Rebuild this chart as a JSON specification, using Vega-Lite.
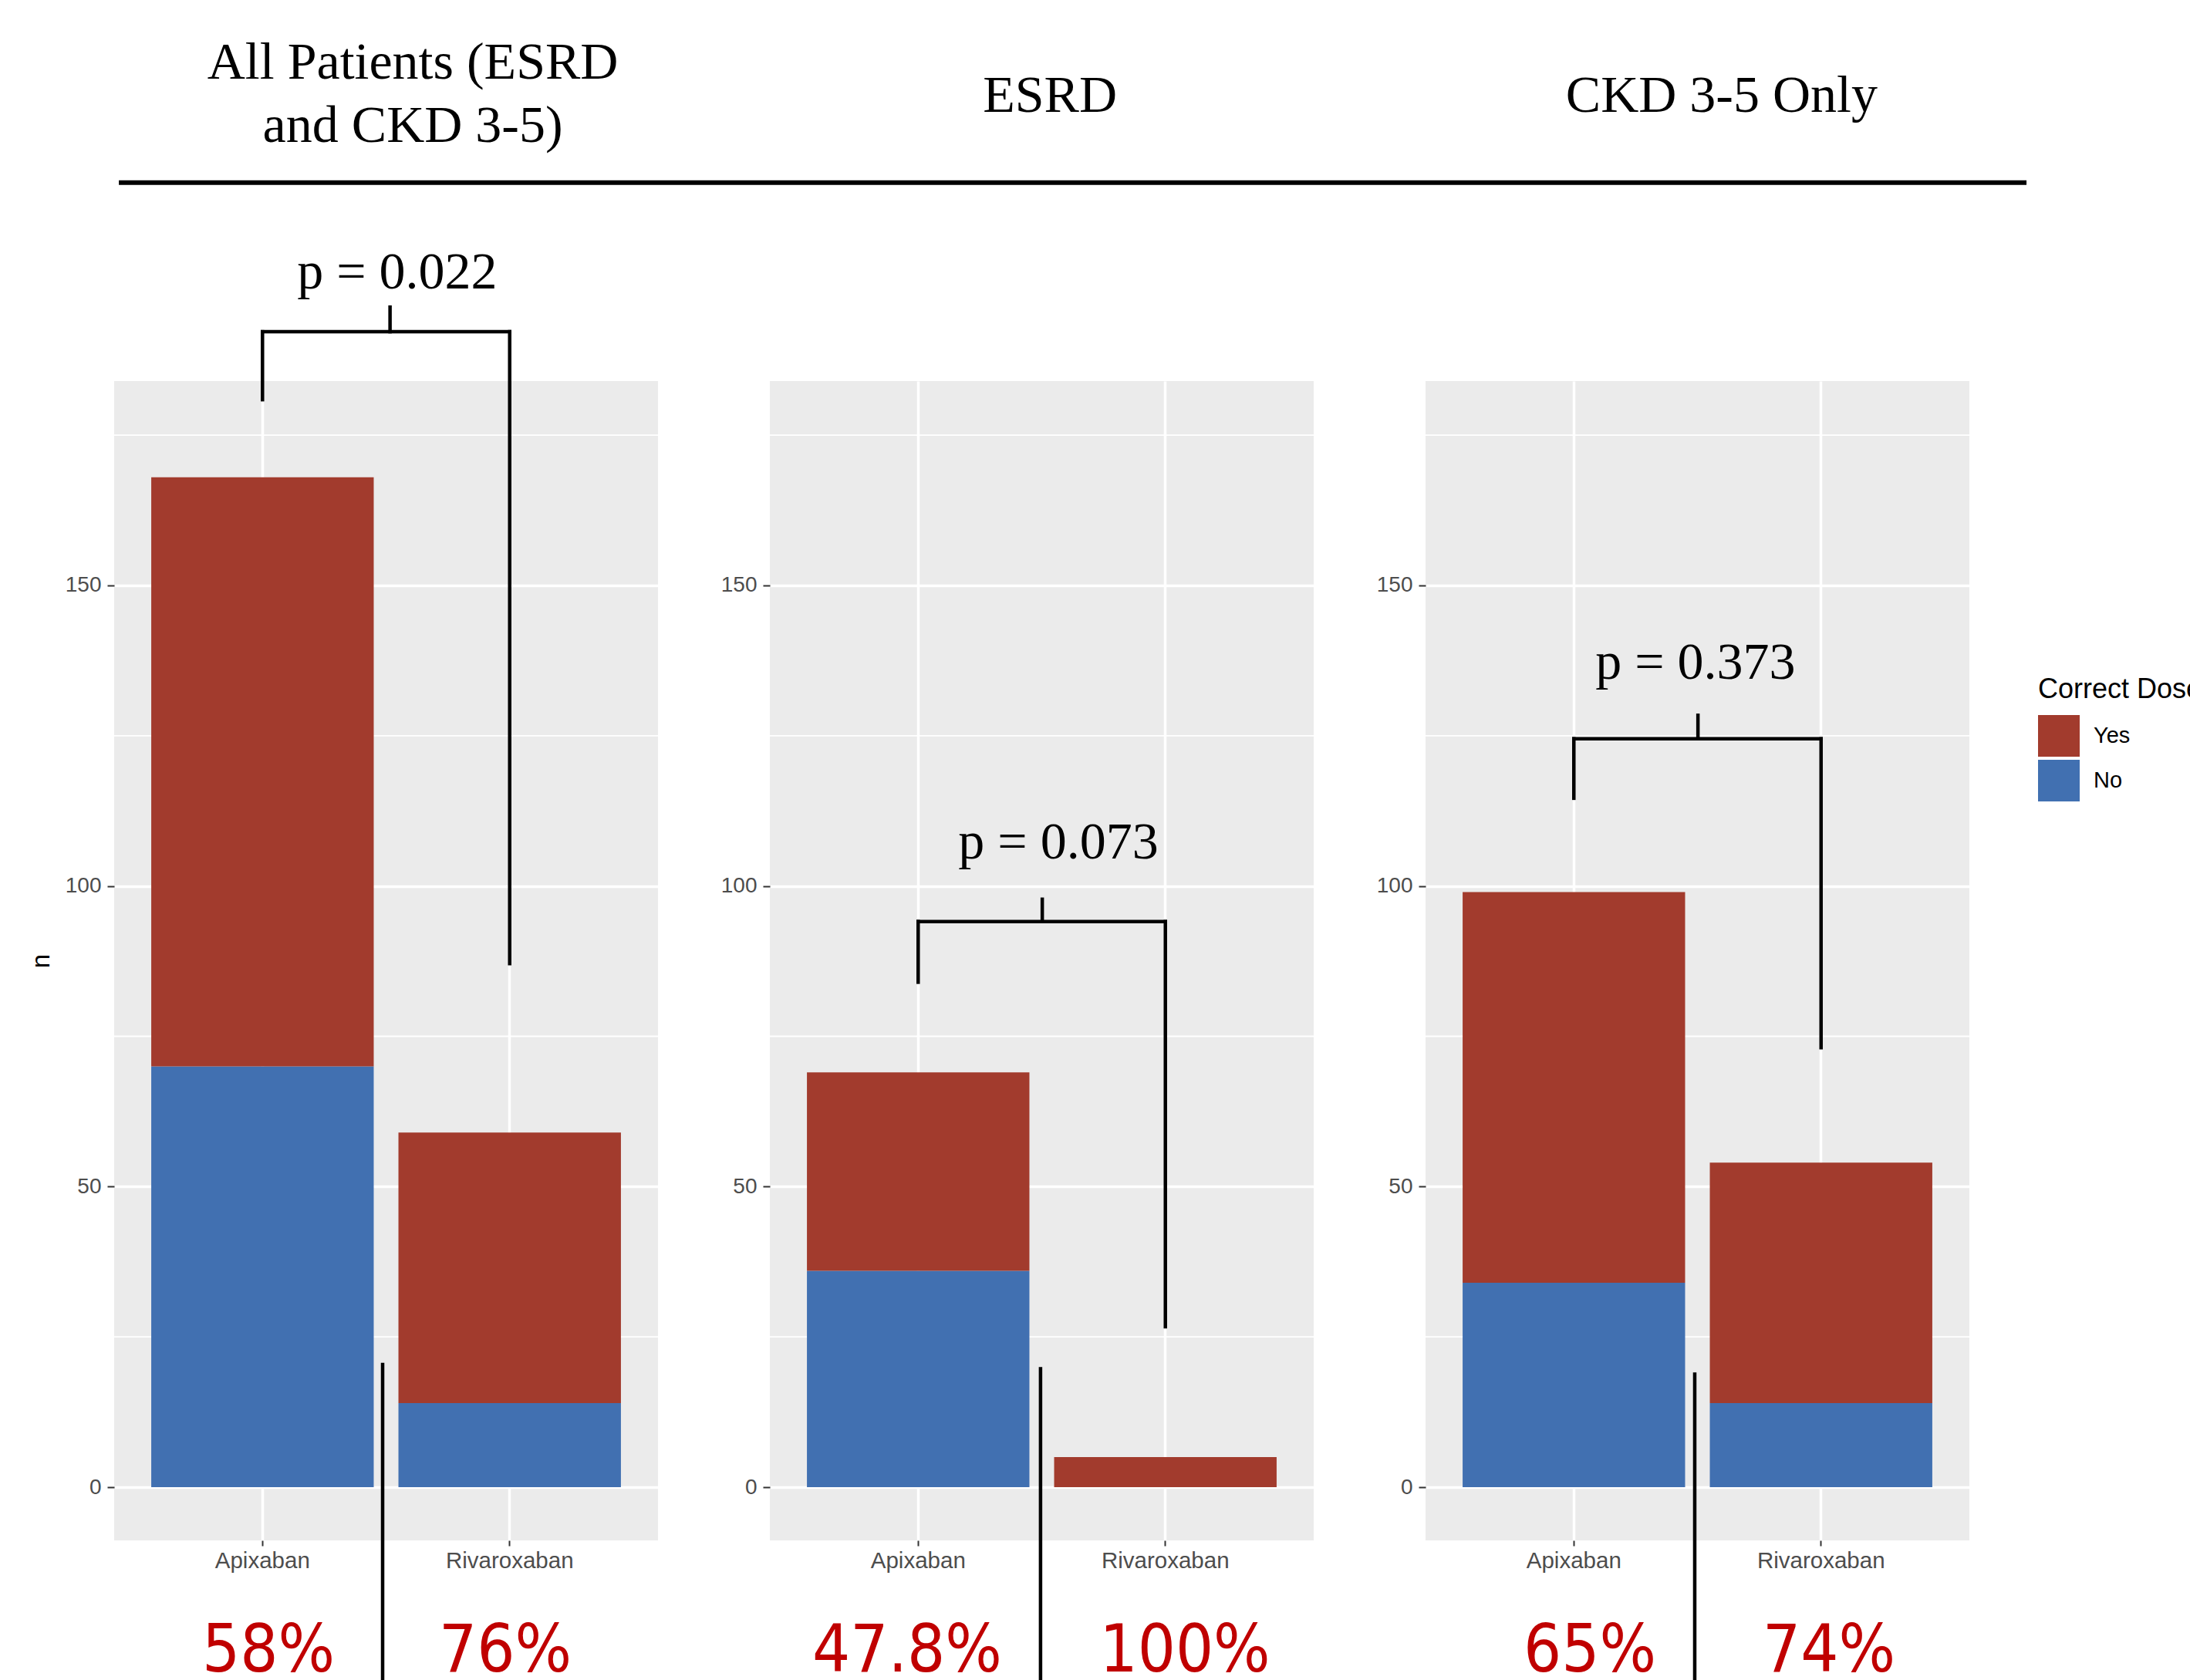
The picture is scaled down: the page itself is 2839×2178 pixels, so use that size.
{
  "$schema": "https://vega.github.io/schema/vega-lite/v6.json",
  "autosize": {"type": "none"},
  "padding": {"left": 148, "top": 494, "right": 2691, "bottom": 1684},
  "background": "white",
  "datasets": {
    "d": [
      {"panel": "All Patients", "kind": "bar", "drug": "Apixaban", "dose": "No", "n": 70},
      {"panel": "All Patients", "kind": "bar", "drug": "Apixaban", "dose": "Yes", "n": 98},
      {"panel": "All Patients", "kind": "bar", "drug": "Rivaroxaban", "dose": "No", "n": 14},
      {"panel": "All Patients", "kind": "bar", "drug": "Rivaroxaban", "dose": "Yes", "n": 45},
      {"panel": "ESRD", "kind": "bar", "drug": "Apixaban", "dose": "No", "n": 36},
      {"panel": "ESRD", "kind": "bar", "drug": "Apixaban", "dose": "Yes", "n": 33},
      {"panel": "ESRD", "kind": "bar", "drug": "Rivaroxaban", "dose": "No", "n": 0},
      {"panel": "ESRD", "kind": "bar", "drug": "Rivaroxaban", "dose": "Yes", "n": 5},
      {"panel": "CKD", "kind": "bar", "drug": "Apixaban", "dose": "No", "n": 34},
      {"panel": "CKD", "kind": "bar", "drug": "Apixaban", "dose": "Yes", "n": 65},
      {"panel": "CKD", "kind": "bar", "drug": "Rivaroxaban", "dose": "No", "n": 14},
      {"panel": "CKD", "kind": "bar", "drug": "Rivaroxaban", "dose": "Yes", "n": 40},
      {"panel": "any", "kind": "minor", "y": 25},
      {"panel": "any", "kind": "minor", "y": 75},
      {"panel": "any", "kind": "minor", "y": 125},
      {"panel": "any", "kind": "minor", "y": 175},
      {"panel": "All Patients", "kind": "line", "x": 1, "y": 192.2, "x2": 2, "y2": 192.2},
      {"panel": "All Patients", "kind": "line", "x": 1, "y": 192.2, "x2": 1, "y2": 180.9},
      {"panel": "All Patients", "kind": "line", "x": 2, "y": 192.2, "x2": 2, "y2": 87.1},
      {"panel": "All Patients", "kind": "line", "x": 1.516, "y": 192.2, "x2": 1.516, "y2": 196.3},
      {"panel": "All Patients", "kind": "line", "x": 1.486, "y": 20.4, "x2": 1.486, "y2": -40},
      {"panel": "All Patients", "kind": "hline", "x": 0.419, "y": 217, "x2": 8.136, "y2": 217},
      {"panel": "ESRD", "kind": "line", "x": 1, "y": 94.1, "x2": 2, "y2": 94.1},
      {"panel": "ESRD", "kind": "line", "x": 1, "y": 94.1, "x2": 1, "y2": 84.0},
      {"panel": "ESRD", "kind": "line", "x": 2, "y": 94.1, "x2": 2, "y2": 26.7},
      {"panel": "ESRD", "kind": "line", "x": 1.502, "y": 94.1, "x2": 1.502, "y2": 97.8},
      {"panel": "ESRD", "kind": "line", "x": 1.495, "y": 19.7, "x2": 1.495, "y2": -40},
      {"panel": "CKD", "kind": "line", "x": 1, "y": 124.5, "x2": 2, "y2": 124.5},
      {"panel": "CKD", "kind": "line", "x": 1, "y": 124.5, "x2": 1, "y2": 114.6},
      {"panel": "CKD", "kind": "line", "x": 2, "y": 124.5, "x2": 2, "y2": 73.1},
      {"panel": "CKD", "kind": "line", "x": 1.502, "y": 124.5, "x2": 1.502, "y2": 128.4},
      {"panel": "CKD", "kind": "line", "x": 1.489, "y": 18.8, "x2": 1.489, "y2": -40},
      {"panel": "All Patients", "kind": "serif", "x": 1.608, "y": 234.3, "label": "All Patients (ESRD"},
      {"panel": "All Patients", "kind": "serif", "x": 1.608, "y": 223.8, "label": "and CKD 3-5)"},
      {"panel": "ESRD", "kind": "serif", "x": 1.533, "y": 228.8, "label": "ESRD"},
      {"panel": "CKD", "kind": "serif", "x": 1.598, "y": 228.8, "label": "CKD 3-5 Only"},
      {"panel": "All Patients", "kind": "serif", "x": 1.545, "y": 199.4, "label": "p = 0.022"},
      {"panel": "ESRD", "kind": "serif", "x": 1.567, "y": 104.6, "label": "p = 0.073"},
      {"panel": "CKD", "kind": "serif", "x": 1.492, "y": 134.5, "label": "p = 0.373"},
      {"panel": "All Patients", "kind": "pct", "x": 1.024, "y": -30.6, "label": "58%"},
      {"panel": "All Patients", "kind": "pct", "x": 1.982, "y": -30.6, "label": "76%"},
      {"panel": "ESRD", "kind": "pct", "x": 0.955, "y": -30.6, "label": "47.8%"},
      {"panel": "ESRD", "kind": "pct", "x": 2.079, "y": -30.6, "label": "100%"},
      {"panel": "CKD", "kind": "pct", "x": 1.065, "y": -30.6, "label": "65%"},
      {"panel": "CKD", "kind": "pct", "x": 2.032, "y": -30.6, "label": "74%"}
    ]
  },
  "spacing": 145,
  "bounds": "flush",
  "hconcat": [
    {
      "width": 705, "height": 1503,
      "data": {"name": "d"},
      "transform": [{"filter": "datum.panel == 'All Patients' || datum.panel == 'any'"}],
      "resolve": {"scale": {"x": "independent"}, "axis": {"x": "independent"}},
      "layer": [
        {"transform": [{"filter": "datum.kind == 'minor'"}], "mark": {"type": "rule", "color": "white", "strokeWidth": 1.8},
         "encoding": {"y": {"field": "y", "type": "quantitative", "scale": {"domain": [-8.85, 184], "nice": false, "zero": false},
           "axis": {"values": [0, 50, 100, 150], "title": "n", "grid": true, "gridColor": "white", "gridWidth": 3.5, "domain": false, "tickColor": "#333333", "tickSize": 9, "tickWidth": 2, "labelFont": "Liberation Sans", "labelFontSize": 28, "labelColor": "#4D4D4D", "labelPadding": 8, "titleFont": "Liberation Sans", "titleFontSize": 33, "titleFontWeight": "normal", "titleColor": "black", "titlePadding": 14}}}},
        {"transform": [{"filter": "datum.kind == 'bar'"}], "mark": {"type": "bar"},
         "encoding": {
           "x": {"field": "drug", "type": "nominal", "scale": {"paddingInner": 0.1, "paddingOuter": 0.15},
                 "axis": {"title": null, "labelAngle": 0, "grid": true, "gridColor": "white", "gridWidth": 3.5, "domain": false, "tickColor": "#333333", "tickSize": 7, "tickWidth": 2, "labelFont": "Liberation Sans", "labelFontSize": 29.5, "labelColor": "#4D4D4D", "labelPadding": 5, "bandPosition": 0.5}},
           "y": {"field": "n", "type": "quantitative", "stack": "zero", "scale": {"domain": [-8.85, 184], "nice": false, "zero": false}},
           "color": {"field": "dose", "type": "nominal", "scale": {"domain": ["Yes", "No"], "range": ["#A23B2D", "#4170B1"]}, "legend": {"title": "Correct Dose"}},
           "order": {"field": "dose", "sort": "ascending"}
         }},
        {"transform": [{"filter": "datum.kind == 'line'"}], "mark": {"type": "rule", "color": "black", "strokeWidth": 4.5, "strokeCap": "square"},
         "encoding": {
           "x": {"field": "x", "type": "quantitative", "scale": {"domain": [0.4, 2.6], "nice": false, "zero": false}, "axis": null},
           "x2": {"field": "x2"},
           "y": {"field": "y", "type": "quantitative", "scale": {"domain": [-8.85, 184], "nice": false, "zero": false}},
           "y2": {"field": "y2"}}},
        {"transform": [{"filter": "datum.kind == 'hline'"}], "mark": {"type": "rule", "color": "black", "strokeWidth": 6},
         "encoding": {
           "x": {"field": "x", "type": "quantitative", "scale": {"domain": [0.4, 2.6], "nice": false, "zero": false}, "axis": null},
           "x2": {"field": "x2"},
           "y": {"field": "y", "type": "quantitative", "scale": {"domain": [-8.85, 184], "nice": false, "zero": false}},
           "y2": {"field": "y2"}}},
        {"transform": [{"filter": "datum.kind == 'serif'"}], "mark": {"type": "text", "font": "Liberation Serif", "fontSize": 68, "color": "black", "align": "center", "baseline": "alphabetic"},
         "encoding": {
           "x": {"field": "x", "type": "quantitative", "scale": {"domain": [0.4, 2.6], "nice": false, "zero": false}, "axis": null},
           "y": {"field": "y", "type": "quantitative", "scale": {"domain": [-8.85, 184], "nice": false, "zero": false}},
           "text": {"field": "label"}}},
        {"transform": [{"filter": "datum.kind == 'pct'"}], "mark": {"type": "text", "font": "DejaVu Sans Condensed, sans-serif", "fontSize": 86, "color": "#C00000", "align": "center", "baseline": "alphabetic"},
         "encoding": {
           "x": {"field": "x", "type": "quantitative", "scale": {"domain": [0.4, 2.6], "nice": false, "zero": false}, "axis": null},
           "y": {"field": "y", "type": "quantitative", "scale": {"domain": [-8.85, 184], "nice": false, "zero": false}},
           "text": {"field": "label"}}}
      ]
    },
    {
      "width": 705, "height": 1503,
      "data": {"name": "d"},
      "transform": [{"filter": "datum.panel == 'ESRD' || datum.panel == 'any'"}],
      "resolve": {"scale": {"x": "independent"}, "axis": {"x": "independent"}},
      "layer": [
        {"transform": [{"filter": "datum.kind == 'minor'"}], "mark": {"type": "rule", "color": "white", "strokeWidth": 1.8},
         "encoding": {"y": {"field": "y", "type": "quantitative", "scale": {"domain": [-8.85, 184], "nice": false, "zero": false},
           "axis": {"values": [0, 50, 100, 150], "title": null, "grid": true, "gridColor": "white", "gridWidth": 3.5, "domain": false, "tickColor": "#333333", "tickSize": 9, "tickWidth": 2, "labelFont": "Liberation Sans", "labelFontSize": 28, "labelColor": "#4D4D4D", "labelPadding": 8}}}},
        {"transform": [{"filter": "datum.kind == 'bar'"}], "mark": {"type": "bar"},
         "encoding": {
           "x": {"field": "drug", "type": "nominal", "scale": {"paddingInner": 0.1, "paddingOuter": 0.15},
                 "axis": {"title": null, "labelAngle": 0, "grid": true, "gridColor": "white", "gridWidth": 3.5, "domain": false, "tickColor": "#333333", "tickSize": 7, "tickWidth": 2, "labelFont": "Liberation Sans", "labelFontSize": 29.5, "labelColor": "#4D4D4D", "labelPadding": 5, "bandPosition": 0.5}},
           "y": {"field": "n", "type": "quantitative", "stack": "zero", "scale": {"domain": [-8.85, 184], "nice": false, "zero": false}},
           "color": {"field": "dose", "type": "nominal", "scale": {"domain": ["Yes", "No"], "range": ["#A23B2D", "#4170B1"]}, "legend": {"title": "Correct Dose"}},
           "order": {"field": "dose", "sort": "ascending"}
         }},
        {"transform": [{"filter": "datum.kind == 'line'"}], "mark": {"type": "rule", "color": "black", "strokeWidth": 4.5, "strokeCap": "square"},
         "encoding": {
           "x": {"field": "x", "type": "quantitative", "scale": {"domain": [0.4, 2.6], "nice": false, "zero": false}, "axis": null},
           "x2": {"field": "x2"},
           "y": {"field": "y", "type": "quantitative", "scale": {"domain": [-8.85, 184], "nice": false, "zero": false}},
           "y2": {"field": "y2"}}},
        {"transform": [{"filter": "datum.kind == 'serif'"}], "mark": {"type": "text", "font": "Liberation Serif", "fontSize": 68, "color": "black", "align": "center", "baseline": "alphabetic"},
         "encoding": {
           "x": {"field": "x", "type": "quantitative", "scale": {"domain": [0.4, 2.6], "nice": false, "zero": false}, "axis": null},
           "y": {"field": "y", "type": "quantitative", "scale": {"domain": [-8.85, 184], "nice": false, "zero": false}},
           "text": {"field": "label"}}},
        {"transform": [{"filter": "datum.kind == 'pct'"}], "mark": {"type": "text", "font": "DejaVu Sans Condensed, sans-serif", "fontSize": 86, "color": "#C00000", "align": "center", "baseline": "alphabetic"},
         "encoding": {
           "x": {"field": "x", "type": "quantitative", "scale": {"domain": [0.4, 2.6], "nice": false, "zero": false}, "axis": null},
           "y": {"field": "y", "type": "quantitative", "scale": {"domain": [-8.85, 184], "nice": false, "zero": false}},
           "text": {"field": "label"}}}
      ]
    },
    {
      "width": 705, "height": 1503,
      "data": {"name": "d"},
      "transform": [{"filter": "datum.panel == 'CKD' || datum.panel == 'any'"}],
      "resolve": {"scale": {"x": "independent"}, "axis": {"x": "independent"}},
      "layer": [
        {"transform": [{"filter": "datum.kind == 'minor'"}], "mark": {"type": "rule", "color": "white", "strokeWidth": 1.8},
         "encoding": {"y": {"field": "y", "type": "quantitative", "scale": {"domain": [-8.85, 184], "nice": false, "zero": false},
           "axis": {"values": [0, 50, 100, 150], "title": null, "grid": true, "gridColor": "white", "gridWidth": 3.5, "domain": false, "tickColor": "#333333", "tickSize": 9, "tickWidth": 2, "labelFont": "Liberation Sans", "labelFontSize": 28, "labelColor": "#4D4D4D", "labelPadding": 8}}}},
        {"transform": [{"filter": "datum.kind == 'bar'"}], "mark": {"type": "bar"},
         "encoding": {
           "x": {"field": "drug", "type": "nominal", "scale": {"paddingInner": 0.1, "paddingOuter": 0.15},
                 "axis": {"title": null, "labelAngle": 0, "grid": true, "gridColor": "white", "gridWidth": 3.5, "domain": false, "tickColor": "#333333", "tickSize": 7, "tickWidth": 2, "labelFont": "Liberation Sans", "labelFontSize": 29.5, "labelColor": "#4D4D4D", "labelPadding": 5, "bandPosition": 0.5}},
           "y": {"field": "n", "type": "quantitative", "stack": "zero", "scale": {"domain": [-8.85, 184], "nice": false, "zero": false}},
           "color": {"field": "dose", "type": "nominal", "scale": {"domain": ["Yes", "No"], "range": ["#A23B2D", "#4170B1"]}, "legend": {"title": "Correct Dose"}},
           "order": {"field": "dose", "sort": "ascending"}
         }},
        {"transform": [{"filter": "datum.kind == 'line'"}], "mark": {"type": "rule", "color": "black", "strokeWidth": 4.5, "strokeCap": "square"},
         "encoding": {
           "x": {"field": "x", "type": "quantitative", "scale": {"domain": [0.4, 2.6], "nice": false, "zero": false}, "axis": null},
           "x2": {"field": "x2"},
           "y": {"field": "y", "type": "quantitative", "scale": {"domain": [-8.85, 184], "nice": false, "zero": false}},
           "y2": {"field": "y2"}}},
        {"transform": [{"filter": "datum.kind == 'serif'"}], "mark": {"type": "text", "font": "Liberation Serif", "fontSize": 68, "color": "black", "align": "center", "baseline": "alphabetic"},
         "encoding": {
           "x": {"field": "x", "type": "quantitative", "scale": {"domain": [0.4, 2.6], "nice": false, "zero": false}, "axis": null},
           "y": {"field": "y", "type": "quantitative", "scale": {"domain": [-8.85, 184], "nice": false, "zero": false}},
           "text": {"field": "label"}}},
        {"transform": [{"filter": "datum.kind == 'pct'"}], "mark": {"type": "text", "font": "DejaVu Sans Condensed, sans-serif", "fontSize": 86, "color": "#C00000", "align": "center", "baseline": "alphabetic"},
         "encoding": {
           "x": {"field": "x", "type": "quantitative", "scale": {"domain": [0.4, 2.6], "nice": false, "zero": false}, "axis": null},
           "y": {"field": "y", "type": "quantitative", "scale": {"domain": [-8.85, 184], "nice": false, "zero": false}},
           "text": {"field": "label"}}}
      ]
    }
  ],
  "config": {
    "view": {"fill": "#EBEBEB", "stroke": null},
    "font": "Liberation Sans",
    "legend": {
      "orient": "none", "legendX": 2494, "legendY": 383, "padding": 0,
      "titleFont": "Liberation Sans", "titleFontSize": 36, "titleFontWeight": "normal", "titleColor": "black", "titlePadding": 14, "titleLimit": 2000,
      "labelFont": "Liberation Sans", "labelFontSize": 29, "labelColor": "black", "labelOffset": 18,
      "symbolType": "square", "symbolSize": 2916, "symbolStrokeWidth": 0, "symbolOpacity": 1, "rowPadding": 4
    }
  }
}
